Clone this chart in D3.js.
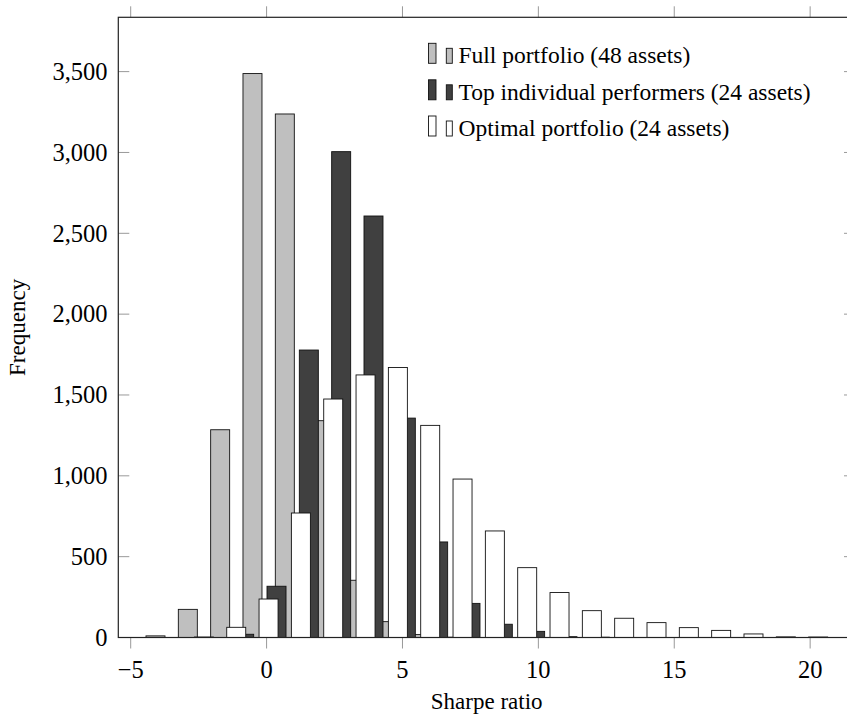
<!DOCTYPE html>
<html>
<head>
<meta charset="utf-8">
<script src="https://cdn.jsdelivr.net/npm/d3@7"></script>
<style>
  body { margin: 0; background: #fff; }
  text { font-family: "Liberation Serif", serif; fill: #000; }
</style>
</head>
<body>
<div id="chart"></div>
<script>
// histogram counts per bin
const seriesNames = ['Full portfolio (48 assets)', 'Top individual performers (24 assets)', 'Optimal portfolio (24 assets)']
const fullCounts = [10, 174, 1285, 3488, 3238, 1341, 354, 98, 18, 2]
const topCounts = [20, 317, 1778, 3005, 2607, 1357, 591, 211, 82, 38, 5, 2]
const optimalCounts = [3, 63, 238, 770, 1475, 1624, 1670, 1312, 980, 659, 432, 278, 166, 119, 92, 61, 44, 22, 4, 3]
// left edge of the first bin for each series (Sharpe ratio units)
const binStarts = [-4.437, -1.174, -2.656]
const binWidth = 1.1895
const xTicks = [-5, 0, 5, 10, 15, 20]
const yTicks = [0, 500, 1000, 1500, 2000, 2500, 3000, 3500]

const width = 847
const height = 716
const plot = { left: 118.3, right: 855, top: 17.3, bottom: 637.5 }
const barWidthPx = 19
const fills = ['#bfbfbf', '#404040', '#ffffff']
const tickLen = 11

const x = d3.scaleLinear().domain([-5.456, 21.65]).range([plot.left, plot.right])
const y = d3.scaleLinear().domain([0, 3836]).range([plot.bottom, plot.top])

const svg = d3.select('#chart').append('svg')
  .attr('width', width)
  .attr('height', height)

svg.append('defs').append('clipPath').attr('id', 'clip')
  .append('rect')
  .attr('x', plot.left).attr('y', plot.top)
  .attr('width', plot.right - plot.left).attr('height', plot.bottom - plot.top)

const allCounts = [fullCounts, topCounts, optimalCounts]
const bars = svg.append('g').attr('clip-path', 'url(#clip)')

allCounts.forEach((counts, s) => {
  const bins = counts.map((c, i) => ({ x0: binStarts[s] + i * binWidth, count: c }))
  bars.append('g')
    .selectAll('rect')
    .data(bins)
    .enter()
    .append('rect')
    .attr('x', d => x(d.x0))
    .attr('y', d => y(d.count))
    .attr('width', barWidthPx)
    .attr('height', d => y(0) - y(d.count))
    .attr('fill', fills[s])
    .attr('stroke', '#111')
    .attr('stroke-width', 0.9)
})

// ticks (gray, thin)
const ticks = svg.append('g').attr('stroke', '#999').attr('stroke-width', 1)
ticks.selectAll('.xb').data(xTicks).enter().append('line')
  .attr('x1', d => x(d)).attr('x2', d => x(d))
  .attr('y1', plot.bottom).attr('y2', plot.bottom + tickLen)
ticks.selectAll('.xt').data(xTicks).enter().append('line')
  .attr('x1', d => x(d)).attr('x2', d => x(d))
  .attr('y1', plot.top).attr('y2', plot.top - tickLen)
ticks.selectAll('.yl').data(yTicks.slice(1)).enter().append('line')
  .attr('x1', plot.left).attr('x2', plot.left + tickLen)
  .attr('y1', d => y(d)).attr('y2', d => y(d))
ticks.selectAll('.yr').data(yTicks.slice(1)).enter().append('line')
  .attr('x1', plot.right).attr('x2', plot.right - tickLen)
  .attr('y1', d => y(d)).attr('y2', d => y(d))

// frame
svg.append('rect')
  .attr('x', plot.left).attr('y', plot.top)
  .attr('width', plot.right - plot.left).attr('height', plot.bottom - plot.top)
  .attr('fill', 'none')
  .attr('stroke', '#222')
  .attr('stroke-width', 1.2)

// tick labels
const fmt = d3.format(',')
svg.append('g').selectAll('text').data(xTicks).enter().append('text')
  .attr('x', d => x(d))
  .attr('y', 678)
  .attr('text-anchor', 'middle')
  .style('font-size', '24.5px')
  .text(d => fmt(d))

svg.append('g').selectAll('text').data(yTicks).enter().append('text')
  .attr('x', 107.5)
  .attr('y', d => y(d))
  .attr('dy', '0.34em')
  .attr('text-anchor', 'end')
  .style('font-size', '24.5px')
  .text(d => fmt(d))

// axis titles
svg.append('text')
  .attr('transform', `translate(25, ${(plot.top + plot.bottom) / 2}) rotate(-90)`)
  .attr('text-anchor', 'middle')
  .style('font-size', '23px')
  .text('Frequency')

svg.append('text')
  .attr('x', (plot.left + plot.right) / 2)
  .attr('y', 709)
  .attr('text-anchor', 'middle')
  .style('font-size', '23px')
  .text('Sharpe ratio')

// legend
const legendRows = [63.3, 99.8, 136]
const legend = svg.append('g')
legend.selectAll('g').data(seriesNames).enter().append('g')
  .attr('transform', (d, i) => `translate(0, ${legendRows[i]})`)
  .each(function (d, i) {
    const g = d3.select(this)
    g.append('rect').attr('x', 428.5).attr('y', -20).attr('width', 7.5).attr('height', 20)
      .attr('fill', fills[i]).attr('stroke', '#111').attr('stroke-width', 0.9)
    g.append('rect').attr('x', 446.3).attr('y', -15).attr('width', 6).attr('height', 15)
      .attr('fill', fills[i]).attr('stroke', '#111').attr('stroke-width', 0.9)
    g.append('text').attr('x', 458.5).attr('y', 0)
      .style('font-size', '23.5px')
      .text(d)
  })
</script>
</body>
</html>
